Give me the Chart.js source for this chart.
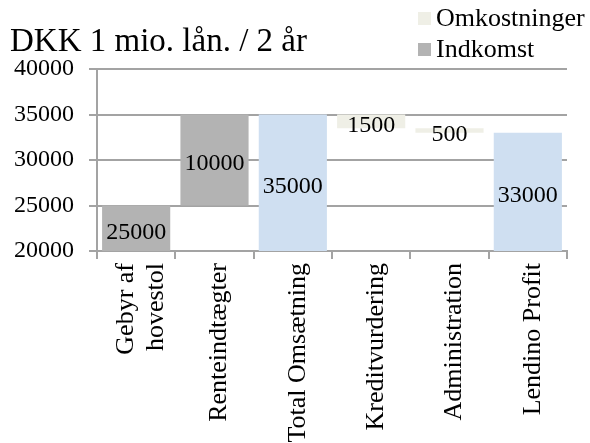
<!DOCTYPE html>
<html>
<head>
<meta charset="utf-8">
<script src="https://cdn.jsdelivr.net/npm/chart.js@4/dist/chart.umd.min.js"></script>
<style>
  html, body { margin: 0; padding: 0; background: #ffffff; }
  #wrap { width: 590px; height: 443px; }
</style>
</head>
<body>
<div id="wrap"><canvas id="c" width="590" height="443"></canvas></div>
<script>
// Loan economics waterfall: DKK 1 mio. loan over 2 years
const titleText = 'DKK 1 mio. lån. / 2 år';
const categories = [['Gebyr af', 'hovestol'], 'Renteindtægter', 'Total Omsætning', 'Kreditvurdering', 'Administration', 'Lendino Profit'];
const amounts = [25000, 10000, 35000, 1500, 500, 33000];
const kinds = ['income', 'income', 'total', 'cost', 'cost', 'total'];
const yMin = 20000;
const yMax = 40000;
const yStep = 5000;
const legendLabels = ['Omkostninger', 'Indkomst'];

const FONT = '"Liberation Serif", "Times New Roman", serif';
const kindColors = { income: '#b3b3b3', total: '#cfdff1', cost: '#efefe6' };
const legendColors = [kindColors.cost, kindColors.income];
const gridColor = '#a3a3a3';
const xFontSize = 26;
const xLineHeight = 1.12;

// Build floating [start, end] ranges from the running total
let running = 0;
const ranges = amounts.map((v, i) => {
  const k = kinds[i];
  if (k === 'total') { running = v; return [0, v]; }
  if (k === 'income') { const r = [running, running + v]; running += v; return r; }
  const r = [running - v, running]; running -= v; return r;
});

// Centre multi-line rotated category labels on their tick
const centreWrappedLabels = {
  id: 'centreWrappedLabels',
  beforeDraw(chart) {
    const xs = chart.scales.x;
    const items = xs.getLabelItems();
    const lh = xFontSize * xLineHeight;
    items.forEach(item => {
      if (Array.isArray(item.label) && !item._centred) {
        item.options.translation[0] -= (item.label.length - 1) * lh / 2;
        item._centred = true;
      }
    });
  }
};

// Value labels centred on the visible part of each bar
const valueLabels = {
  id: 'valueLabels',
  afterDatasetsDraw(chart) {
    const { ctx, scales: { y } } = chart;
    const meta = chart.getDatasetMeta(0);
    ctx.save();
    ctx.font = '24px ' + FONT;
    ctx.fillStyle = '#000';
    ctx.textAlign = 'center';
    ctx.textBaseline = 'middle';
    meta.data.forEach((bar, i) => {
      const [a, b] = ranges[i];
      const top = y.getPixelForValue(Math.min(Math.max(a, b), yMax));
      const bot = y.getPixelForValue(Math.max(Math.min(a, b), yMin));
      ctx.fillText(String(amounts[i]), bar.x, (top + bot) / 2 + 4);
    });
    ctx.restore();
  }
};

// Stacked legend in the top right corner
const stackedLegend = {
  id: 'stackedLegend',
  afterDraw(chart) {
    const { ctx } = chart;
    ctx.save();
    ctx.font = '26px ' + FONT;
    ctx.textBaseline = 'middle';
    ctx.textAlign = 'left';
    legendLabels.forEach((t, i) => {
      const yTop = 12 + i * 31;
      ctx.fillStyle = legendColors[i];
      ctx.fillRect(418, yTop, 13, 13);
      ctx.fillStyle = '#000';
      ctx.fillText(t, 436, yTop + 7.5);
    });
    ctx.restore();
  }
};

new Chart(document.getElementById('c'), {
  type: 'bar',
  data: {
    labels: categories,
    datasets: [{
      data: ranges,
      backgroundColor: kinds.map(k => kindColors[k]),
      borderWidth: 0,
      barPercentage: 0.87,
      categoryPercentage: 1.0
    }]
  },
  options: {
    responsive: false,
    animation: false,
    devicePixelRatio: 1,
    layout: { padding: { left: 10, right: 23, top: 0, bottom: 0 } },
    plugins: {
      legend: { display: false },
      tooltip: { enabled: false },
      title: {
        display: true,
        text: titleText,
        align: 'start',
        color: '#000',
        font: { family: FONT, size: 33, weight: 'normal', lineHeight: 1.2 },
        padding: { top: 23, bottom: 6.4 }
      }
    },
    scales: {
      x: {
        offset: true,
        grid: { display: true, drawOnChartArea: false, drawTicks: true, tickLength: 8, color: gridColor, lineWidth: 2, offset: true },
        border: { display: true, color: gridColor, width: 2 },
        ticks: {
          autoSkip: false, minRotation: 90, maxRotation: 90, padding: 4, labelOffset: 5,
          color: '#000', font: { family: FONT, size: xFontSize, lineHeight: xLineHeight }
        },
        afterFit(scale) { scale.height = 192; }
      },
      y: {
        min: yMin, max: yMax,
        grid: { color: gridColor, lineWidth: 2, tickLength: 8 },
        border: { display: true, color: gridColor, width: 2 },
        ticks: {
          stepSize: yStep, padding: 15, color: '#000',
          font: { family: FONT, size: 24 },
          callback: v => String(v)
        },
        afterFit(scale) { scale.width = 87; }
      }
    }
  },
  plugins: [centreWrappedLabels, valueLabels, stackedLegend]
});
</script>
</body>
</html>
